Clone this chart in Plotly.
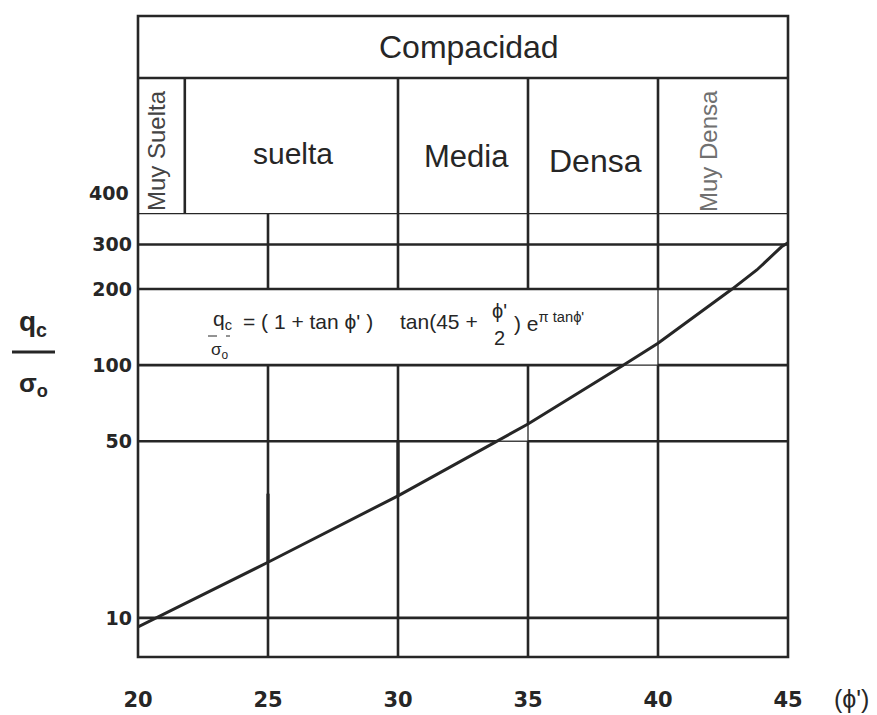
import numpy as np
import plotly.graph_objects as go

# Friction angle (degrees) and normalised cone resistance qc/σo
phi = [20, 25, 30, 35, 38.6, 40, 42.85, 43.8, 44.75, 45]
qc_so = [9.2, 16.6, 30.4, 58.5, 99, 122, 200, 238, 294, 305]

x_ticks = [20, 25, 30, 35, 40, 45]
y_ticks = [10, 50, 100, 200, 300]
y_levels = [10, 50, 100, 200, 300, 400]
phi_grid = [25, 30, 35, 40]

# Compactness classes and the column dividers (degrees)
classes = ["suelta", "Media", "Densa"]
class_dividers = [21.8, 30, 35, 40]

W, H = 877, 715
L, R, T, B = 138, 89, 16, 58
PW, PH = W - L - R, H - T - B
Y_MIN, Y_MAX = 7.0, 400.0


def px_x(px):
    return (px - L) / PW


def px_y(py):
    return (H - B - py) / PH


grid_top = px_y(213)      # top of the chart grid (value 400)
header_line = px_y(78)    # line under "Compacidad"

INK = "#262626"
THICK = 2.6
THIN = 1.3
FONT = "Arial, Liberation Sans, sans-serif"
NUM_FONT = "DejaVu Sans, sans-serif"

fig = go.Figure()
fig.add_trace(go.Scatter(x=phi, y=qc_so, mode="lines",
                         line=dict(color=INK, width=3), hoverinfo="skip"))

shapes = []


def hline(yv, x0, x1, w=THICK):
    shapes.append(dict(type="line", xref="x", yref="y", x0=x0, x1=x1, y0=yv, y1=yv,
                       line=dict(color=INK, width=w), layer="below"))


def vline(xv, y0, y1, w=THICK, yref="y"):
    shapes.append(dict(type="line", xref="x", yref=yref, x0=xv, x1=xv, y0=y0, y1=y1,
                       line=dict(color=INK, width=w), layer="below"))


# where the curve crosses the 50 and 100 lines
logq = np.log10(qc_so)
phi_50 = float(np.interp(np.log10(50), logq, phi))
phi_100 = float(np.interp(np.log10(100), logq, phi))
q_at_35 = float(10 ** np.interp(35, phi, logq))
q_at_40 = float(10 ** np.interp(40, phi, logq))

# horizontal grid
for lv in y_levels:
    if lv == 50:
        hline(lv, 20, phi_50)
        hline(lv, phi_50, 35, THIN)
        hline(lv, 35, 45)
    elif lv == 100:
        hline(lv, 20, phi_100)
        hline(lv, phi_100, 40, THIN)
        hline(lv, 40, 45)
    else:
        hline(lv, 20, 45)

# vertical grid (the band between 100 and 200 is left open for the formula)
for pg in phi_grid:
    if pg == 35:
        vline(pg, Y_MIN, 50)
        vline(pg, 50, q_at_35, THIN)
        vline(pg, q_at_35, 100)
    else:
        vline(pg, Y_MIN, 100)
    if pg == 40:
        vline(pg, 100, q_at_40, THIN)
        vline(pg, q_at_40, 200, THIN)
    vline(pg, 200, 400)

# index strokes from the curve up at 25 and 30
vline(25, float(10 ** np.interp(25, phi, logq)), 31, 3.2)
vline(30, float(10 ** np.interp(30, phi, logq)), 50, 3.2)

# header: outer frame, "Compacidad" band and class columns
shapes.append(dict(type="rect", xref="paper", yref="paper", x0=0, x1=1, y0=0, y1=1,
                   line=dict(color=INK, width=THICK), layer="below"))
shapes.append(dict(type="line", xref="paper", yref="paper", x0=0, x1=1,
                   y0=header_line, y1=header_line, line=dict(color=INK, width=THICK)))
for dv in class_dividers:
    vline(dv, grid_top, header_line, THICK, yref="paper")

# y-axis title bar and formula fraction bar
shapes.append(dict(type="line", xref="paper", yref="paper", x0=px_x(12), x1=px_x(55),
                   y0=px_y(352), y1=px_y(352), line=dict(color=INK, width=3)))
shapes.append(dict(type="line", xref="paper", yref="paper", x0=px_x(208), x1=px_x(230),
                   y0=px_y(336), y1=px_y(336), line=dict(color=INK, width=1, dash="dash")))

ann = []


def text(t, x, y, size, color=INK, xanchor="center", angle=0, weight="normal", family=FONT):
    ann.append(dict(text=t, x=px_x(x), y=px_y(y), xref="paper", yref="paper",
                    showarrow=False, xanchor=xanchor, yanchor="middle", textangle=angle,
                    font=dict(family=family, size=size, color=color, weight=weight)))


text("Compacidad", 469, 47, 32)
text(classes[0], 293, 153, 30)
text(classes[1], 466, 156, 31)
text(classes[2], 595, 161, 32)
text("Muy Suelta", 156, 151, 24, color="#444444", angle=-90)
text("Muy Densa", 708, 151, 24, color="#707070", angle=-90)

# formula
text("q<sub>c</sub>", 211, 320, 21, xanchor="left")
text("σ<sub>o</sub>", 209, 351, 17, xanchor="left")
text("= ( 1 + tan ϕ' )", 241, 322, 21, xanchor="left")
text("tan(45 +", 398, 322, 21, xanchor="left")
text("ϕ'", 499, 311, 20)
text("2", 499, 338, 20)
text(") e<sup>π tanϕ'</sup>", 512, 322, 21, xanchor="left")

# axis titles and the offset "400" label
text("q<sub>c</sub>", 33, 323, 28, weight="bold")
text("σ<sub>o</sub>", 33, 384, 26, weight="bold")
text("400", 131, 193, 19, xanchor="right", weight="bold", family=NUM_FONT)
text("(ϕ')", 851, 699, 25)

fig.update_layout(
    width=W, height=H,
    margin=dict(l=L, r=R, t=T, b=B, autoexpand=False),
    plot_bgcolor="white", paper_bgcolor="white",
    showlegend=False,
    shapes=shapes, annotations=ann,
    xaxis=dict(range=[20, 45], showgrid=False, zeroline=False, showline=False,
               automargin=False,
               tickvals=x_ticks, ticktext=[str(v) for v in x_ticks], ticks="",
               ticklabelstandoff=28,
               tickfont=dict(family=NUM_FONT, size=21, color=INK, weight="bold")),
    yaxis=dict(type="log", range=[np.log10(Y_MIN), np.log10(Y_MAX)],
               domain=[0, grid_top], showgrid=False, zeroline=False, showline=False,
               automargin=False,
               tickvals=y_ticks, ticktext=[str(v) for v in y_ticks], ticks="",
               ticklabelstandoff=5,
               tickfont=dict(family=NUM_FONT, size=19, color=INK, weight="bold")),
)

fig.write_html("out.html")
